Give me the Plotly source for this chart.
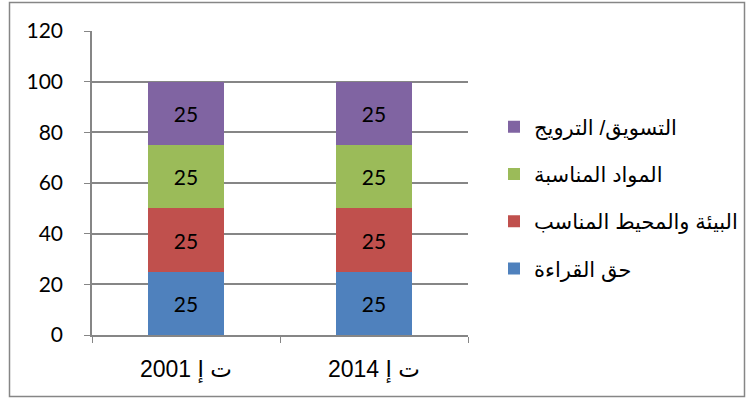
import plotly.graph_objects as go

categories = ["ت إ 2001", "ت إ 2014"]
series_names = ["حق القراءة", "البيئة والمحيط المناسب", "المواد المناسبة", "التسويق/ الترويج"]
series_values = [
    [25, 25],
    [25, 25],
    [25, 25],
    [25, 25],
]
colors = ["#4F81BD", "#C0504D", "#9BBB59", "#8064A2"]
y_ticks = [0, 20, 40, 60, 80, 100, 120]

fig = go.Figure()
for i, (name, vals) in enumerate(zip(series_names, series_values)):
    fig.add_trace(go.Bar(
        x=categories, y=vals, name=name,
        marker=dict(color=colors[i], line=dict(width=0)),
        text=[str(v) for v in vals], textposition="inside",
        insidetextanchor="middle",
        textfont=dict(family="Lato, Open Sans, sans-serif", size=21, color="black"),
        legendgroup=f"g{i}",
        legendrank=100 - i,
        width=0.4,
    ))

L, R, T, B = 92, 280, 31, 65
W, H = 748, 400
pw, ph = W - L - R, H - T - B

def px(x):
    return (x - L) / pw

def py(y):
    return (H - B - y) / ph

fig.update_layout(
    width=W, height=H,
    margin=dict(l=L, r=R, t=T, b=B, pad=0, autoexpand=False),
    barmode="stack",
    plot_bgcolor="white", paper_bgcolor="white",
    showlegend=True,
    legend=dict(
        x=px(494), y=py(198), xanchor="left", yanchor="middle",
        traceorder="grouped", tracegroupgap=17,
        font=dict(family="Liberation Sans, Arial, DejaVu Sans, sans-serif", size=21, color="black"),
        bgcolor="rgba(0,0,0,0)",
    ),
    xaxis=dict(
        type="category",
        showline=True, linecolor="#868686", linewidth=1.5,
        ticks="outside", tickson="boundaries", ticklen=6, tickcolor="#868686",
        tickfont=dict(family="Liberation Sans, Arial, DejaVu Sans, sans-serif", size=23, color="black"),
        ticklabelstandoff=13,
        showgrid=False,
    ),
    yaxis=dict(
        range=[0, 120], tickvals=y_ticks,
        showline=True, linecolor="#868686", linewidth=1.5,
        ticks="outside", ticklen=6, tickcolor="#868686",
        showgrid=True, gridcolor="#868686", gridwidth=1.5,
        tickfont=dict(family="Lato, Open Sans, sans-serif", size=21, color="black"),
        ticklabelstandoff=17,
        zeroline=False,
    ),
    shapes=[dict(
        type="rect", xref="paper", yref="paper",
        x0=px(9.5), x1=px(744.5), y0=py(396.5), y1=py(2.5),
        line=dict(color="#868686", width=1.5), fillcolor="rgba(0,0,0,0)",
        layer="below",
    )],
)

fig.write_html("out.html", config={"displayModeBar": False},
               post_script="document.body.style.margin='0';")
